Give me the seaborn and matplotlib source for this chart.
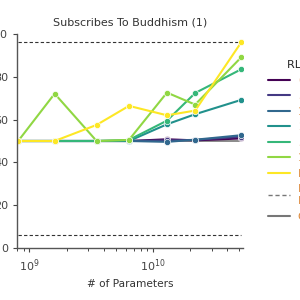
import matplotlib
matplotlib.use("Agg")
import matplotlib.pyplot as plt
import seaborn as sns
import numpy as np
import pandas as pd
from matplotlib.lines import Line2D

params = [8.1e8, 1.6e9, 3.5e9, 6.4e9, 1.3e10, 2.2e10, 5.2e10]
series_labels = ["0", "50", "100", "250", "500", "1000", "PM"]
s0 = [50.0, 50.0, 50.0, 50.0, 50.8, 50.3, 51.2]
s1 = [50.0, 50.0, 50.0, 50.0, 50.3, 50.5, 52.0]
s2 = [50.0, 50.0, 50.0, 50.0, 49.6, 50.6, 52.7]
s3 = [50.0, 50.0, 50.0, 50.0, 57.8, 62.5, 69.2]
s4 = [50.0, 50.0, 50.0, 50.5, 59.5, 72.4, 83.5]
s5 = [50.0, 72.1, 50.0, 50.5, 72.6, 67.0, 89.1]
s6 = [50.0, 50.0, 57.5, 66.4, 62.0, 64.2, 96.1]
dashed_levels = [96.3, 6.1]
chance_level = 50.0
ref_labels = ["Max/Min\nPossible", "Chance Rate"]

all_series = [s0, s1, s2, s3, s4, s5, s6]
rows = []
for lab, vals in zip(series_labels, all_series):
    for p, v in zip(params, vals):
        rows.append({"params": p, "value": v, "steps": lab})
df = pd.DataFrame(rows)

sns.set_style("ticks")
fig = plt.figure(figsize=(3, 3), dpi=100)
ax = fig.add_axes([0.057, 0.173, 0.753, 0.714])

palette = [tuple(c[:3]) for c in plt.cm.viridis(np.linspace(0, 1, 7))]
ax.hlines(chance_level, params[0], params[-1], colors="#777777", linewidth=1.2, zorder=1)
sns.lineplot(data=df, x="params", y="value", hue="steps", hue_order=series_labels,
             palette=palette, marker="o", markersize=4.5, linewidth=1.5,
             markeredgecolor="white", markeredgewidth=0.5, ax=ax, legend=False)
for lv in dashed_levels:
    ax.hlines(lv, params[0], params[-1], colors="#333333", linestyles=(0, (3, 2)),
              linewidth=0.8, zorder=1)

ax.set_xscale("log")
ax.set_xlim(10 ** 8.9, 10 ** 10.73)
ax.set_ylim(0, 100)
ax.set_yticks([0, 20, 40, 60, 80, 100])
ax.set_xlabel("# of Parameters", fontsize=7.6, color="#333333")
ax.set_ylabel("")
ax.set_title("Subscribes To Buddhism (1)", fontsize=8, color="#333333")
ax.tick_params(labelsize=8, colors="#444444", length=3)
ax.tick_params(which="minor", length=2)
for sp in ["left", "bottom"]:
    ax.spines[sp].set_color("#555555")
    ax.spines[sp].set_linewidth(1.0)
sns.despine(ax=ax)

handles = [Line2D([], [], color=c, linewidth=1.5) for c in palette]
handles.append(Line2D([], [], color="#777777", linestyle=(0, (3, 2)), linewidth=1.0))
handles.append(Line2D([], [], color="#777777", linewidth=1.5))
labels = series_labels + ref_labels
leg = ax.legend(handles, labels, title="RLHF Steps", loc="upper left",
                bbox_to_anchor=(1.065, 0.925), frameon=False, fontsize=8,
                title_fontsize=8, handlelength=2.0, labelspacing=0.5,
                handletextpad=0.75)
for t in leg.get_texts():
    t.set_color("#dd8a3c")

fig.savefig("out.png", dpi=100)
